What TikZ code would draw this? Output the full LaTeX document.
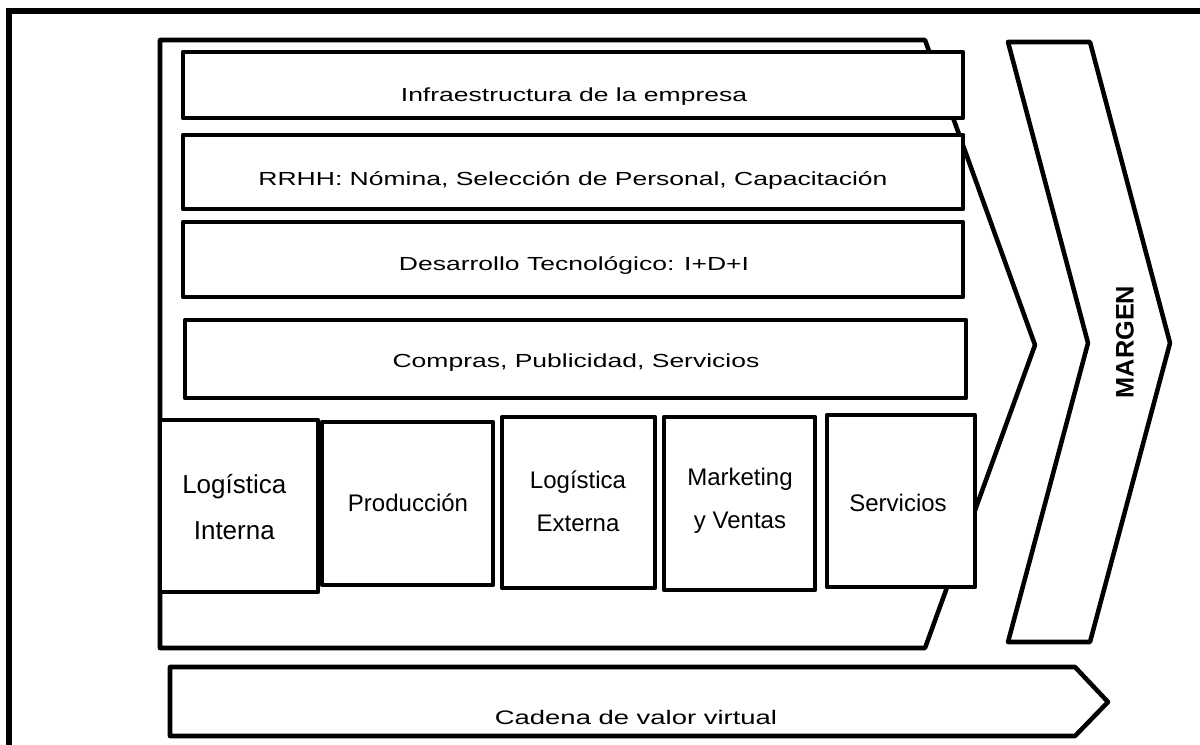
\documentclass[tikz,border=0pt]{standalone}
\usepackage{fontspec}
\setmainfont{Liberation Sans}
\newfontfamily\widesans[FakeStretch=1.4]{Liberation Sans}
\usetikzlibrary{positioning}

\tikzset{
  block/.style={draw, fill=white, line width=3.4pt, line join=round},
  rowtext/.style={font=\widesans\fontsize{14.2}{17}\selectfont, inner sep=0pt},
  celltext/.style={font=\fontsize{18}{32}\selectfont, inner sep=0pt}
}

\begin{document}
\begin{tikzpicture}[x=0.75pt, y=-0.75pt, every text node part/.style={align=center}]
\clip (0,0) rectangle (1200,744);
% frame
\draw[line width=4pt] (9,11) rectangle (1240,780);

% value chain body and margin
\draw[block] (160,40) -- (925,40) -- (1035,345) -- (925,648) -- (160,648) -- cycle;
\draw[block] (1008,42) -- (1090,42) -- (1170,343) -- (1090,642) -- (1008,642) -- (1088,343) -- cycle;
\node[rotate=90, font=\bfseries\fontsize{19}{22}\selectfont, inner sep=0pt] (margen) at (1125,342) {MARGEN};

% support activities
\draw[block] (183,52) rectangle (963,118);
\draw[block] (183,135) rectangle (963,209);
\draw[block] (183,222) rectangle (963,297);
\draw[block] (185,320) rectangle (966,398);
\draw
  node (infra) at (574,97)[rowtext]{Infraestructura de la empresa}
  node (rrhh) at (573,180)[rowtext]{RRHH: Nómina, Selección de Personal, Capacitación}
  node (desarrollo) at (574,265)[rowtext]{Desarrollo Tecnológico: I+D+I}
  node (compras) at (576,363)[rowtext]{Compras, Publicidad, Servicios};

% primary activities
\draw[block] (160,420) rectangle (318,592);
\draw[block] (322,422) rectangle (493,585);
\draw[block] (502,417) rectangle (655,588);
\draw[block] (664,417) rectangle (815,590);
\draw[block] (827,415) rectangle (975,587);
\draw
  node (logint) at (182,507)[celltext, anchor=west, align=left, font=\fontsize{19.5}{34}\selectfont]{Logística\\Interna}
  node (produccion) at (408,503)[celltext]{Producción}
  node (logext) at (578,501)[celltext]{Logística\\Externa}
  node (marketing) at (740,501)[celltext]{Marketing\\y Ventas}
  node (servicios) at (898,503)[celltext]{Servicios};

% virtual chain
\draw[block] (170,667) -- (1075,667) -- (1108,702) -- (1075,736) -- (170,736) -- cycle;
\node (cadena) at (636,717)[rowtext, font=\widesans\fontsize{14.7}{17}\selectfont]{Cadena de valor virtual};
\end{tikzpicture}
\end{document}
